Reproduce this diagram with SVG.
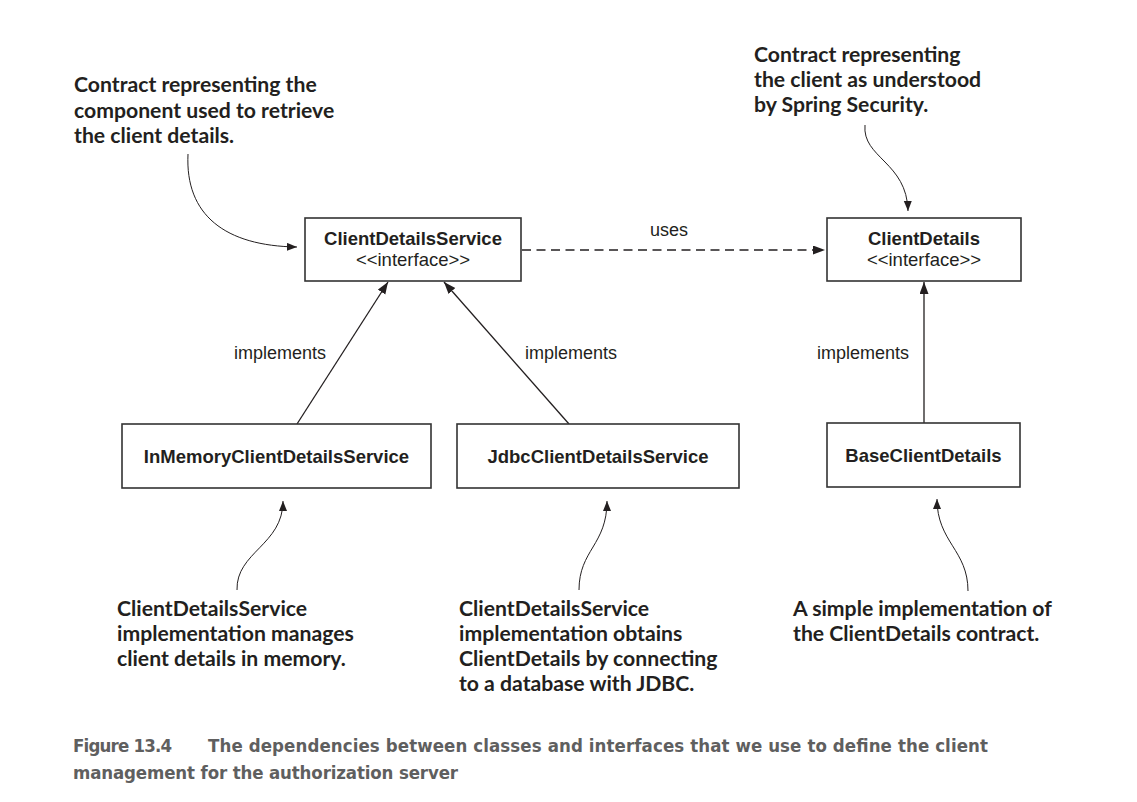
<svg xmlns="http://www.w3.org/2000/svg" width="1137" height="802" viewBox="0 0 1137 802">
<style>
  .box { fill: #ffffff; stroke: #333333; stroke-width: 1.6; }
  .title { font-family: "Liberation Sans", Arial, sans-serif; font-weight: bold; font-size: 18.5px; fill: #231f20; text-anchor: middle; }
  .stereo { font-family: "Liberation Sans", Arial, sans-serif; font-size: 18.5px; fill: #231f20; text-anchor: middle; }
  .lbl { font-family: "Liberation Sans", Arial, sans-serif; font-size: 18px; fill: #231f20; }
  .note { font-family: Lato, "Open Sans", sans-serif; font-weight: bold; font-size: 21.2px; fill: #231f20; }
  .cap { font-family: "DejaVu Sans Condensed", "DejaVu Sans", sans-serif; font-stretch: condensed; font-weight: bold; font-size: 18.5px; fill: #5f5f5f; }
  .edge { fill: none; stroke: #231f20; stroke-width: 1.3; }
  .dash { fill: none; stroke: #231f20; stroke-width: 1.4; stroke-dasharray: 9 5.5; }
  .callout { fill: none; stroke: #231f20; stroke-width: 1; }
</style>
<defs>
  <marker id="arr" markerUnits="userSpaceOnUse" markerWidth="13" markerHeight="10" refX="12" refY="4.5" orient="auto">
    <path d="M0,0 L12,4.5 L0,9 z" fill="#231f20"/>
  </marker>
  <marker id="arrs" markerUnits="userSpaceOnUse" markerWidth="11" markerHeight="9" refX="10" refY="4" orient="auto">
    <path d="M0,0 L10,4 L0,8 z" fill="#231f20"/>
  </marker>
</defs>
<rect width="1137" height="802" fill="#ffffff"/>

<g id="connectors">
  <line class="dash" x1="522" y1="250" x2="825" y2="250" marker-end="url(#arr)"/>
  <line class="edge" x1="297" y1="424" x2="388" y2="282" marker-end="url(#arr)"/>
  <line class="edge" x1="569" y1="424" x2="444" y2="282" marker-end="url(#arr)"/>
  <line class="edge" x1="924" y1="423" x2="924" y2="282" marker-end="url(#arr)"/>
  <path class="callout" d="M188,154 C185,215 225,246 297,247" marker-end="url(#arrs)"/>
  <path class="callout" d="M865,125 C862,158 907,162 908,211" marker-end="url(#arrs)"/>
  <path class="callout" d="M237,590 C236,552 283,545 283,501" marker-end="url(#arrs)"/>
  <path class="callout" d="M579,590 C579,550 607,545 607,501" marker-end="url(#arrs)"/>
  <path class="callout" d="M968,591 C968,550 937,542 937,499" marker-end="url(#arrs)"/>
  <text class="lbl" x="669" y="236" text-anchor="middle">uses</text>
  <text class="lbl" x="234" y="359">implements</text>
  <text class="lbl" x="525" y="359">implements</text>
  <text class="lbl" x="817" y="359">implements</text>
</g>

<g id="node-clientdetailsservice">
  <rect class="box" x="305" y="218" width="216" height="63"/>
  <text class="title" x="413" y="245">ClientDetailsService</text>
  <text class="stereo" x="413" y="266">&lt;&lt;interface&gt;&gt;</text>
</g>
<g id="node-clientdetails">
  <rect class="box" x="827" y="218" width="194" height="63"/>
  <text class="title" x="924" y="245">ClientDetails</text>
  <text class="stereo" x="924" y="266">&lt;&lt;interface&gt;&gt;</text>
</g>
<g id="node-inmemory">
  <rect class="box" x="122" y="424" width="309" height="64"/>
  <text class="title" x="276.5" y="463">InMemoryClientDetailsService</text>
</g>
<g id="node-jdbc">
  <rect class="box" x="457" y="424" width="282" height="64"/>
  <text class="title" x="598" y="463">JdbcClientDetailsService</text>
</g>
<g id="node-base">
  <rect class="box" x="827" y="423" width="193" height="64"/>
  <text class="title" x="923.5" y="462">BaseClientDetails</text>
</g>

<g id="note-service-contract">
  <text class="note" x="74" y="92">Contract representing the</text>
  <text class="note" x="74" y="117.5">component used to retrieve</text>
  <text class="note" x="74" y="143">the client details.</text>
</g>
<g id="note-client-contract">
  <text class="note" x="754" y="62">Contract representing</text>
  <text class="note" x="754" y="87">the client as understood</text>
  <text class="note" x="754" y="112">by Spring Security.</text>
</g>
<g id="note-inmemory">
  <text class="note" x="117" y="616">ClientDetailsService</text>
  <text class="note" x="117" y="641">implementation manages</text>
  <text class="note" x="117" y="666">client details in memory.</text>
</g>
<g id="note-jdbc">
  <text class="note" x="459" y="616">ClientDetailsService</text>
  <text class="note" x="459" y="641">implementation obtains</text>
  <text class="note" x="459" y="666">ClientDetails by connecting</text>
  <text class="note" x="459" y="691">to a database with JDBC.</text>
</g>
<g id="note-base">
  <text class="note" x="793" y="616">A simple implementation of</text>
  <text class="note" x="793" y="641">the ClientDetails contract.</text>
</g>

<g id="caption">
  <text class="cap" x="73" y="752" textLength="99">Figure 13.4</text>
  <text class="cap" x="208" y="752" textLength="780">The dependencies between classes and interfaces that we use to define the client</text>
  <text class="cap" x="73" y="779" textLength="385">management for the authorization server</text>
</g>
</svg>
